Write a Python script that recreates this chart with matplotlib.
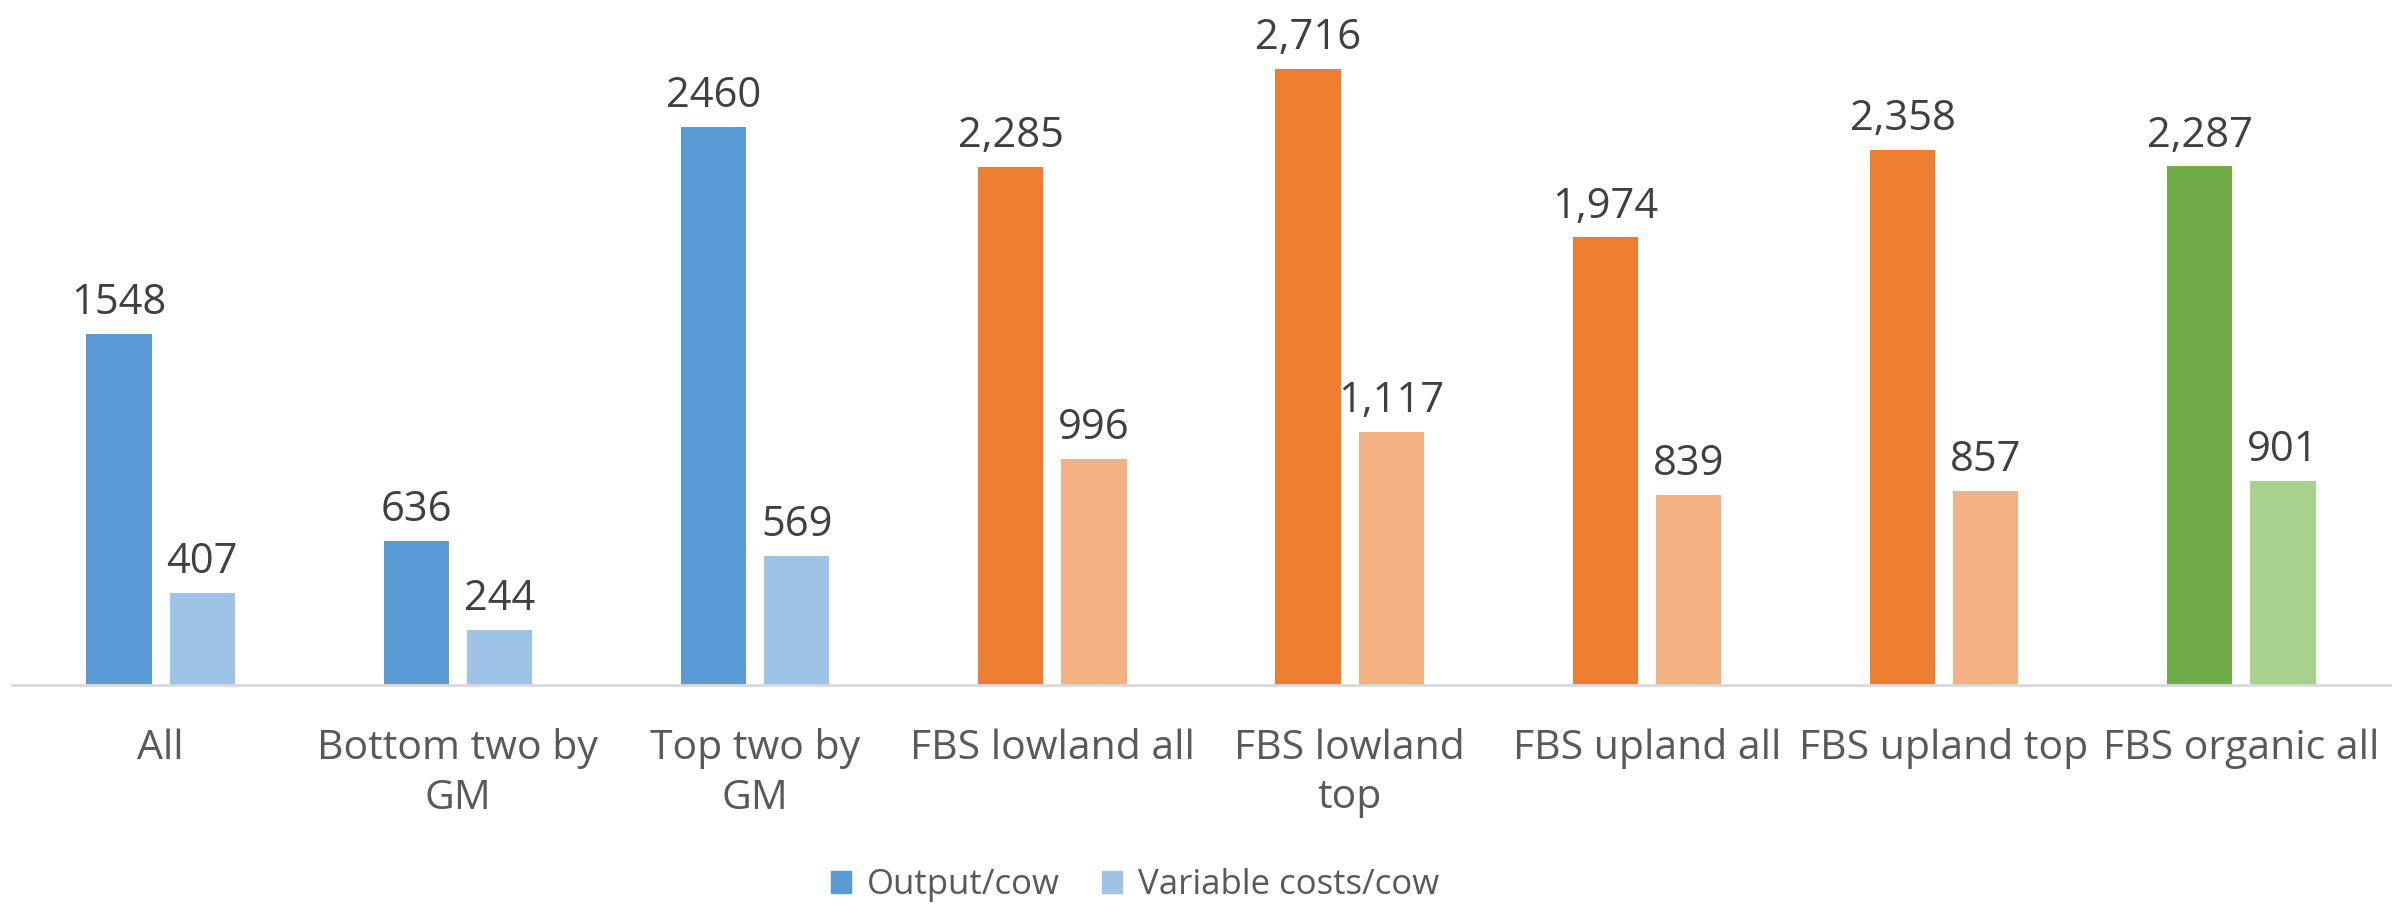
import matplotlib.pyplot as plt
import numpy as np

# Data
categories = ["All", "Bottom two by\nGM", "Top two by\nGM", "FBS lowland all",
              "FBS lowland\ntop", "FBS upland all", "FBS upland top", "FBS organic all"]
output_cow = [1548, 636, 2460, 2285, 2716, 1974, 2358, 2287]
var_costs_cow = [407, 244, 569, 996, 1117, 839, 857, 901]
value_labels_out = ["1548", "636", "2460", "2,285", "2,716", "1,974", "2,358", "2,287"]
value_labels_var = ["407", "244", "569", "996", "1,117", "839", "857", "901"]

dark_cols = ["#5B9BD5"] * 3 + ["#ED7D31"] * 4 + ["#70AD47"]
light_cols = ["#9DC3E6"] * 3 + ["#F4B183"] * 4 + ["#A9D18E"]

plt.rcParams['font.family'] = ['Open Sans', 'DejaVu Sans']

fig = plt.figure(figsize=(24.02, 9.09), dpi=100)
ax = fig.add_axes([0.005, 0.2464, 0.99, 0.7536])

x = np.arange(len(categories))
w = 0.22
off = 0.14
b1 = ax.bar(x - off, output_cow, w, color=dark_cols, label="Output/cow")
b2 = ax.bar(x + off, var_costs_cow, w, color=light_cols, label="Variable costs/cow")

# Wertelabels über den Balken
for bars, labs in [(b1, value_labels_out), (b2, value_labels_var)]:
    for rect, lab in zip(bars, labs):
        ax.annotate(lab, (rect.get_x() + rect.get_width() / 2, rect.get_height()),
                    xytext=(0, 7), textcoords="offset points", ha="center", va="bottom",
                    fontsize=30, color="#404040")

ax.set_xlim(-0.5, len(categories) - 0.5)
ax.set_ylim(0, 3020)
ax.set_xticks(x)
ax.set_xticklabels(categories, fontsize=29.5, color="#595959", linespacing=1.3)
ax.tick_params(axis="x", length=0, pad=31)
ax.set_yticks([])

for s in ["top", "right", "left"]:
    ax.spines[s].set_visible(False)
ax.spines["bottom"].set_color("#D9D9D9")
ax.spines["bottom"].set_linewidth(2)

leg = fig.legend(handles=[b1[0], b2[0]], labels=["Output/cow", "Variable costs/cow"],
                 loc="center", bbox_to_anchor=(0.4725, 0.026), ncol=2, frameon=False,
                 fontsize=25, handlelength=0.6, handleheight=0.6, handletextpad=0.45,
                 columnspacing=1.2, labelcolor="#595959")
leg.legend_handles[1].set_color("#9DC3E6")
leg.legend_handles[0].set_color("#5B9BD5")

fig.savefig("out.png", dpi=100)
